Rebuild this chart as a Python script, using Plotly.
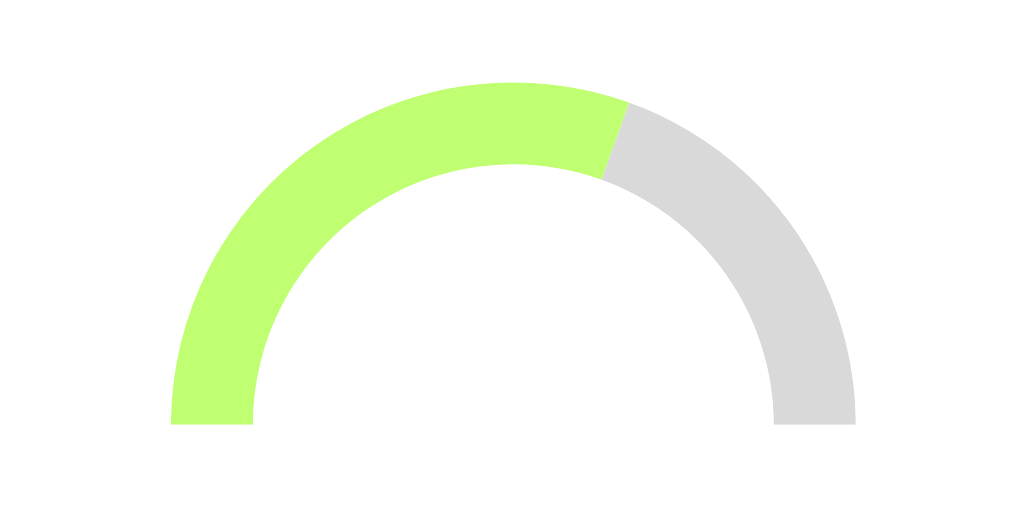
import plotly.graph_objects as go

# Gauge data
labels = ["Progress", "Remaining"]
values = [61, 39]
colors = ["#c1ff72", "#d9d9d9"]
total = sum(values)

# Convert shares into angular positions on a half circle (180° -> 0°)
thetas = []
widths = []
start = 180.0
for v in values:
    w = v / total * 180.0
    thetas.append(start - w / 2)
    widths.append(w)
    start -= w

fig = go.Figure()
fig.add_trace(go.Barpolar(
    r=[1] * len(values),
    theta=thetas,
    width=widths,
    marker=dict(color=colors, line=dict(width=0)),
    hoverinfo="text",
    text=labels,
    showlegend=False,
))

fig.update_layout(
    width=1024, height=512,
    margin=dict(l=0, r=0, t=0, b=0),
    paper_bgcolor="white",
    plot_bgcolor="white",
    polar=dict(
        domain=dict(x=[0.159, 0.828], y=[0.186, 0.855]),
        sector=[0, 180],
        hole=0.76,
        bgcolor="white",
        radialaxis=dict(visible=False, range=[0, 1]),
        angularaxis=dict(visible=False, direction="counterclockwise", rotation=0),
    ),
)

fig.write_html("out.html")
